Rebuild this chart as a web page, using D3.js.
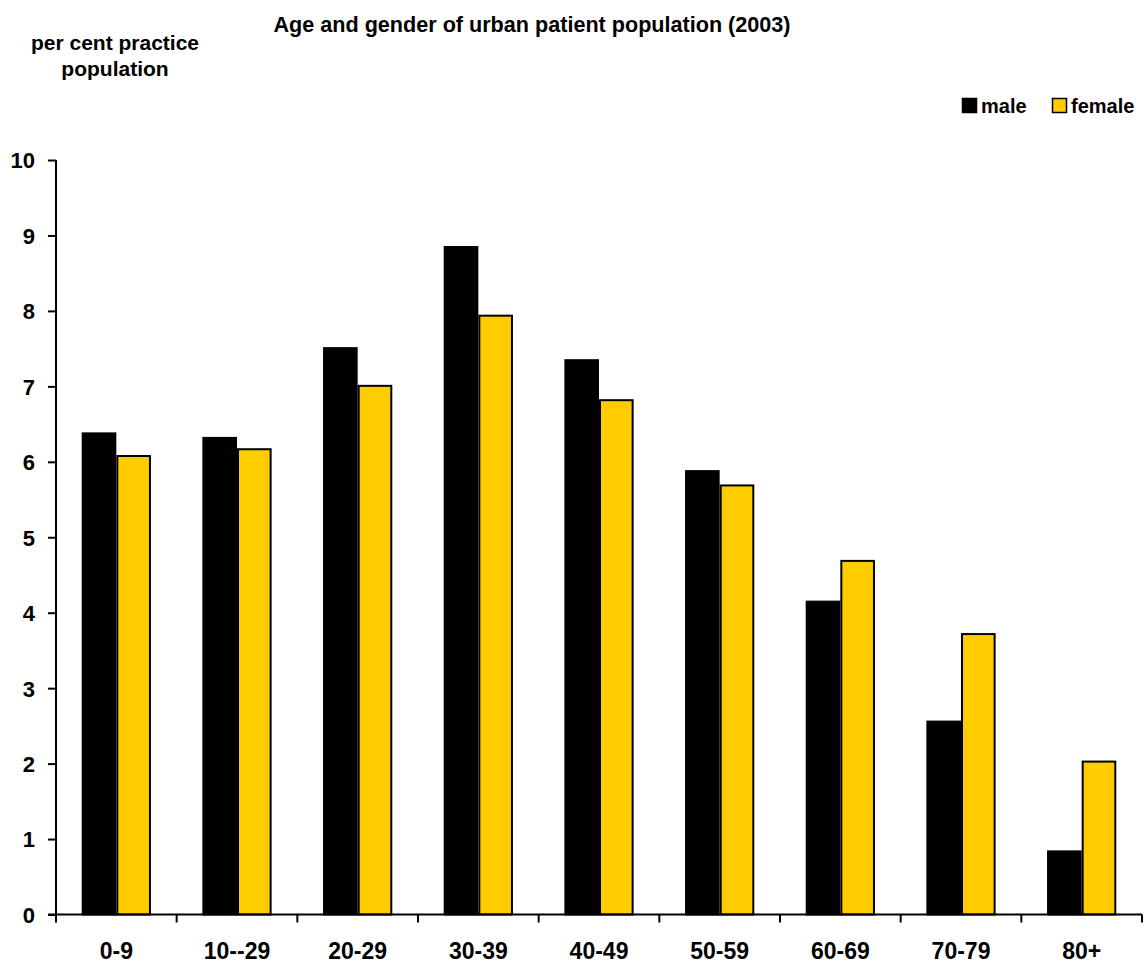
<!DOCTYPE html>
<html>
<head>
<meta charset="utf-8">
<script src="https://cdn.jsdelivr.net/npm/d3@7"></script>
<style>
  html, body { margin: 0; padding: 0; background: #fff; }
  text { font-family: "Liberation Sans", Arial, sans-serif; font-weight: bold; fill: #000; }
</style>
</head>
<body>
<script>
const categories = ["0-9", "10--29", "20-29", "30-39", "40-49", "50-59", "60-69", "70-79", "80+"];
const maleValues = [6.39, 6.33, 7.52, 8.86, 7.36, 5.89, 4.16, 2.57, 0.85];
const femaleValues = [6.09, 6.18, 7.02, 7.95, 6.83, 5.70, 4.70, 3.73, 2.04];
const seriesNames = ["male", "female"];
const seriesColors = ["#000000", "#FFCC00"];
const yTicks = [0, 1, 2, 3, 4, 5, 6, 7, 8, 9, 10];
const titleText = "Age and gender of urban patient population (2003)";
const yTitleLines = ["per cent practice", "population"];

const W = 1144, H = 964;
const svg = d3.select("body").append("svg").attr("width", W).attr("height", H);

const x0 = 56, x1 = 1142, yTop = 160, yBottom = 914.5;

const x = d3.scaleBand().domain(categories).range([x0, x1]).paddingInner(0.426).paddingOuter(0.213);
const xs = d3.scaleBand().domain(seriesNames).range([0, x.bandwidth()]);
const y = d3.scaleLinear().domain([0, 10]).range([yBottom, yTop]);

const data = categories.map((c, i) => ({ cat: c, vals: [maleValues[i], femaleValues[i]] }));

// bars
const groups = svg.append("g").selectAll("g").data(data).join("g")
  .attr("transform", d => `translate(${x(d.cat)},0)`);
groups.selectAll("rect").data(d => d.vals.map((v, j) => ({ v, s: seriesNames[j], j }))).join("rect")
  .attr("x", d => xs(d.s) + 1)
  .attr("width", xs.bandwidth() - 2)
  .attr("y", d => y(d.v) + 1)
  .attr("height", d => y(0) - y(d.v) - 1)
  .attr("fill", d => seriesColors[d.j])
  .attr("stroke", "#000")
  .attr("stroke-width", 2);

// y axis
const yAxis = svg.append("g").attr("transform", `translate(${x0},0)`)
  .call(d3.axisLeft(y).tickValues(yTicks).tickSize(8).tickPadding(13).tickFormat(d3.format("d")));
yAxis.select(".domain").attr("stroke", "#000").attr("stroke-width", 2).attr("d", `M0,${yTop}V${yBottom}`);
yAxis.selectAll(".tick line").attr("stroke", "#000").attr("stroke-width", 2);
yAxis.selectAll(".tick text").style("font-size", "22px").style("font-family", '"Liberation Sans", Arial, sans-serif').style("font-weight", "bold").attr("dy", "0.36em");

// x axis (labels)
const xAxis = svg.append("g").attr("transform", `translate(0,${yBottom})`)
  .call(d3.axisBottom(x).tickSize(0).tickPadding(28));
xAxis.select(".domain").attr("stroke", "#000").attr("stroke-width", 2).attr("d", `M${x0 - 8},0H${x1}`);
xAxis.selectAll(".tick text").style("font-size", "23px").style("font-family", '"Liberation Sans", Arial, sans-serif').style("font-weight", "bold");

// category boundary ticks
const bounds = d3.scaleLinear().domain([0, categories.length]).range([x0, x1]);
svg.append("g").selectAll("line").data(d3.range(categories.length + 1)).join("line")
  .attr("x1", d => bounds(d)).attr("x2", d => bounds(d))
  .attr("y1", yBottom).attr("y2", yBottom + 8)
  .attr("stroke", "#000").attr("stroke-width", 2);

// title
svg.append("text").attr("x", 532).attr("y", 32).attr("text-anchor", "middle")
  .style("font-size", "21.6px").text(titleText);

// y title
svg.append("g").selectAll("text").data(yTitleLines).join("text")
  .attr("x", 115).attr("y", (d, i) => 50 + i * 26).attr("text-anchor", "middle")
  .style("font-size", "21px").text(d => d);

// legend
const legendX = [962, 1052];
const lg = svg.append("g").selectAll("g").data(seriesNames).join("g")
  .attr("transform", (d, i) => `translate(${legendX[i]},98)`);
lg.append("rect").attr("x", 0.5).attr("y", 0.5).attr("width", 14).attr("height", 14)
  .attr("fill", (d, i) => seriesColors[i]).attr("stroke", "#000").attr("stroke-width", 1.5);
lg.append("text").attr("x", 19).attr("y", 15).style("font-size", "20px").text(d => d);
</script>
</body>
</html>
